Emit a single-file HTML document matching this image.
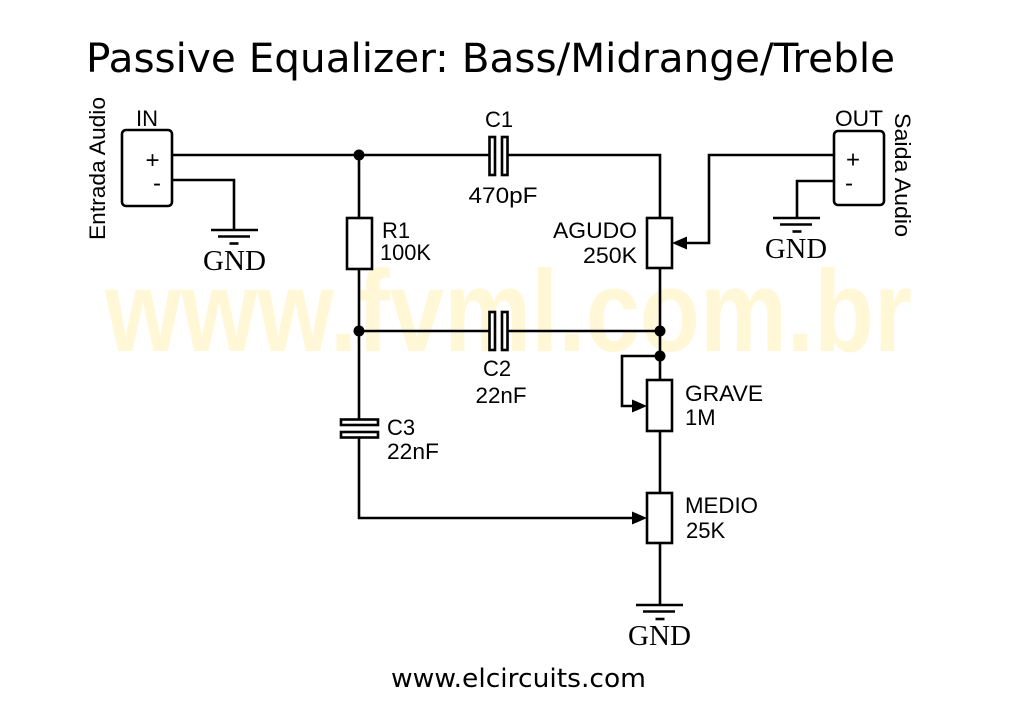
<!DOCTYPE html>
<html>
<head>
<meta charset="utf-8">
<style>
  html,body{margin:0;padding:0;background:#fff;}
  svg{display:block;}
  .l{font-family:"Liberation Sans",Arial,sans-serif;font-size:22px;fill:#000;}
  .pm{font-family:"Liberation Sans",Arial,sans-serif;font-size:24px;fill:#000;}
  .g{font-family:"Liberation Serif","Times New Roman",serif;font-size:28px;fill:#000;}
  .w{stroke:#000;stroke-width:2.6;fill:none;}
  .p{stroke:#000;stroke-width:2.6;fill:#fff;}
</style>
</head>
<body>
<svg width="1015" height="718" viewBox="0 0 1015 718" xmlns="http://www.w3.org/2000/svg">
  <rect width="1015" height="718" fill="#fff"/>
  <!-- watermark -->
  <text x="105" y="351" font-family="Liberation Sans, Arial, sans-serif" font-weight="bold" font-size="116" fill="#FFF7D6" textLength="807" lengthAdjust="spacingAndGlyphs">www.fvml.com.br</text>

  <!-- title -->
  <text x="86" y="72" font-family="DejaVu Sans, Verdana, sans-serif" font-size="40" fill="#000" textLength="809" lengthAdjust="spacingAndGlyphs">Passive Equalizer: Bass/Midrange/Treble</text>

  <!-- IN connector -->
  <rect x="122" y="130" width="50" height="76" rx="4" class="w"/>
  <text x="147" y="126" class="l" text-anchor="middle">IN</text>
  <text x="152.5" y="168" class="pm" text-anchor="middle">+</text>
  <text x="157" y="191" class="pm" text-anchor="middle">-</text>
  <text transform="translate(105,240) rotate(-90)" class="l" textLength="143" lengthAdjust="spacingAndGlyphs">Entrada Audio</text>

  <!-- OUT connector -->
  <rect x="834" y="131" width="50" height="74" rx="4" class="w"/>
  <text x="859" y="126" class="l" text-anchor="middle" textLength="48" lengthAdjust="spacingAndGlyphs">OUT</text>
  <text x="853" y="167.5" class="pm" text-anchor="middle">+</text>
  <text x="849" y="191" class="pm" text-anchor="middle">-</text>
  <text transform="translate(895,113) rotate(90)" class="l" textLength="124" lengthAdjust="spacingAndGlyphs">Saida Audio</text>

  <!-- wires -->
  <path class="w" d="M172,155 H489"/>
  <path class="w" d="M507,155 H660 V218"/>
  <path class="w" d="M172,180 H234 V230"/>
  <path class="w" d="M359,155 V218"/>
  <path class="w" d="M359,269 V420"/>
  <path class="w" d="M359,437 V518 H634"/>
  <path class="w" d="M359,331 H489"/>
  <path class="w" d="M507,331 H660"/>
  <path class="w" d="M660,268 V380"/>
  <path class="w" d="M660,356 H622 V406 H634"/>
  <path class="w" d="M660,431 V493"/>
  <path class="w" d="M660,543 V605"/>
  <path class="w" d="M686,243 H709 V155 H834"/>
  <path class="w" d="M834,181 H797 V218"/>

  <!-- arrowheads -->
  <polygon points="672,243 687,236.5 687,249.5" fill="#000"/>
  <polygon points="647,406 632,399.5 632,412.5" fill="#000"/>
  <polygon points="647,518 632,511.5 632,524.5" fill="#000"/>

  <!-- junction dots -->
  <circle cx="359" cy="155" r="5.5" fill="#000"/>
  <circle cx="359" cy="331" r="5.5" fill="#000"/>
  <circle cx="660" cy="331" r="5.5" fill="#000"/>
  <circle cx="660" cy="356" r="5.5" fill="#000"/>

  <!-- C1 -->
  <rect x="489.5" y="137" width="5.5" height="38" class="p" stroke-width="2.2"/>
  <rect x="502" y="137" width="5.5" height="38" class="p" stroke-width="2.2"/>
  <text x="499" y="127" class="l" text-anchor="middle">C1</text>
  <text x="503" y="203" class="l" text-anchor="middle" textLength="69" lengthAdjust="spacingAndGlyphs">470pF</text>

  <!-- C2 -->
  <rect x="489.5" y="312" width="5.5" height="38" class="p" stroke-width="2.2"/>
  <rect x="502" y="312" width="5.5" height="38" class="p" stroke-width="2.2"/>
  <text x="497" y="376" class="l" text-anchor="middle">C2</text>
  <text x="501" y="403" class="l" text-anchor="middle" textLength="51" lengthAdjust="spacingAndGlyphs">22nF</text>

  <!-- C3 -->
  <rect x="341" y="419.5" width="37" height="5.5" class="p" stroke-width="2.2"/>
  <rect x="341" y="432" width="37" height="5.5" class="p" stroke-width="2.2"/>
  <text x="387" y="435" class="l">C3</text>
  <text x="387" y="459" class="l" textLength="52" lengthAdjust="spacingAndGlyphs">22nF</text>

  <!-- R1 -->
  <rect x="347" y="218" width="25" height="51" class="p"/>
  <text x="382" y="238" class="l">R1</text>
  <text x="380" y="260" class="l" textLength="51" lengthAdjust="spacingAndGlyphs">100K</text>

  <!-- AGUDO pot -->
  <rect x="647" y="218" width="25" height="50" class="p"/>
  <text x="637" y="238" class="l" text-anchor="end" textLength="84" lengthAdjust="spacingAndGlyphs">AGUDO</text>
  <text x="637" y="263" class="l" text-anchor="end" textLength="54" lengthAdjust="spacingAndGlyphs">250K</text>

  <!-- GRAVE pot -->
  <rect x="647" y="380" width="25" height="51" class="p"/>
  <text x="685" y="401" class="l" textLength="78" lengthAdjust="spacingAndGlyphs">GRAVE</text>
  <text x="685" y="425" class="l">1M</text>

  <!-- MEDIO pot -->
  <rect x="647" y="493" width="25" height="50" class="p"/>
  <text x="685" y="513" class="l" textLength="73" lengthAdjust="spacingAndGlyphs">MEDIO</text>
  <text x="686" y="538" class="l">25K</text>

  <!-- GND symbols -->
  <g stroke="#000" stroke-width="2.6">
    <line x1="211" y1="230" x2="258" y2="230"/>
    <line x1="218" y1="236.5" x2="250" y2="236.5"/>
    <line x1="229.5" y1="243.5" x2="238.5" y2="243.5"/>

    <line x1="773" y1="218" x2="820" y2="218"/>
    <line x1="780" y1="224.5" x2="812" y2="224.5"/>
    <line x1="792.5" y1="231.5" x2="801.5" y2="231.5"/>

    <line x1="636" y1="605" x2="683" y2="605"/>
    <line x1="643" y1="611.5" x2="675" y2="611.5"/>
    <line x1="655.5" y1="619" x2="664.5" y2="619"/>
  </g>
  <text x="234.5" y="270" class="g" text-anchor="middle" textLength="63" lengthAdjust="spacingAndGlyphs">GND</text>
  <text x="796" y="258" class="g" text-anchor="middle" textLength="62" lengthAdjust="spacingAndGlyphs">GND</text>
  <text x="659.5" y="645" class="g" text-anchor="middle" textLength="63" lengthAdjust="spacingAndGlyphs">GND</text>

  <!-- footer -->
  <text x="391" y="687" font-family="DejaVu Sans, Verdana, sans-serif" font-size="26" fill="#000" textLength="255" lengthAdjust="spacingAndGlyphs">www.elcircuits.com</text>
</svg>
</body>
</html>
